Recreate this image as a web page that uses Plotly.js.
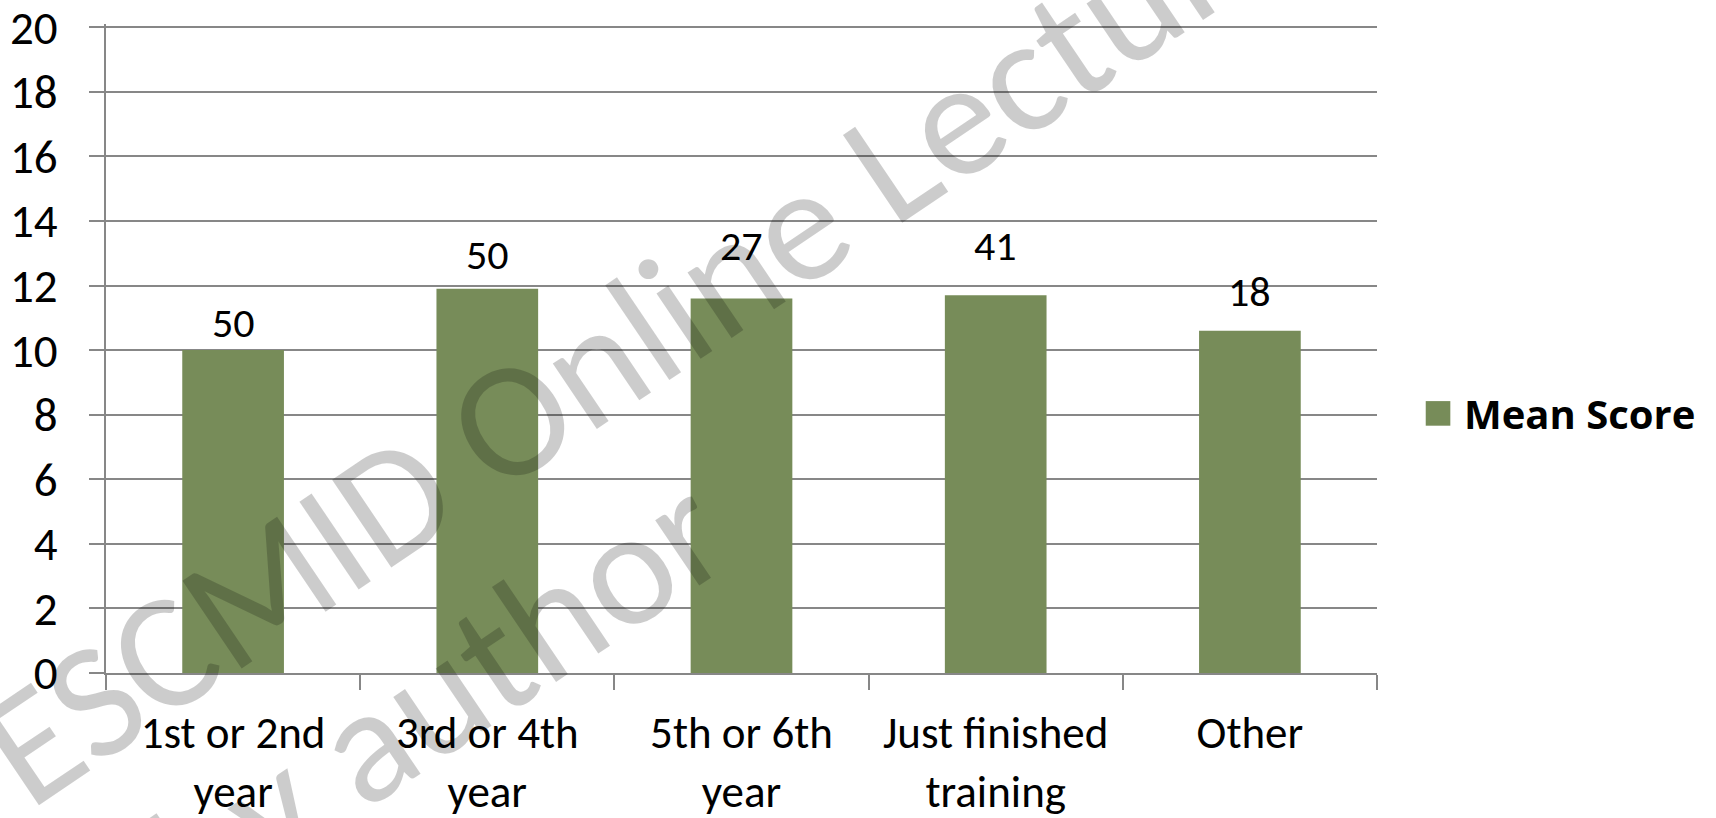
<!DOCTYPE html>
<html>
<head>
<meta charset="utf-8">
<script src="https://cdn.plot.ly/plotly-3.0.1.min.js"></script>
<style>
  html, body { margin: 0; padding: 0; background: #ffffff; }
  #chart { width: 1716px; height: 818px; }
</style>
</head>
<body>
<div id="chart"></div>
<script>
// ---- data ----
const categories = ["1st or 2nd<br>year", "3rd or 4th<br>year", "5th or 6th<br>year", "Just finished<br>training", "Other"];
const meanScore = [10.0, 11.9, 11.6, 11.7, 10.6];
const countLabels = ["50", "50", "27", "41", "18"];
const seriesName = "Mean Score";
const yTickValues = [0, 2, 4, 6, 8, 10, 12, 14, 16, 18, 20];

// ---- styling ----
const FONT = "Carlito, Calibri, 'Liberation Sans Narrow', 'Open Sans', sans-serif";
const BAR_COLOR = "#778c59";
const GRID = "#878787";
const labelLift = [0, 7, 25, 22, 12]; // manual label placement as in the original

const trace = {
  type: "bar",
  x: categories,
  y: meanScore,
  name: seriesName,
  marker: { color: BAR_COLOR, line: { width: 0 } },
  showlegend: true,
  hoverinfo: "x+y"
};

const annotations = categories.map((c, i) => ({
  x: c, y: meanScore[i], xref: "x", yref: "y",
  text: countLabels[i], showarrow: false,
  xanchor: "center", yanchor: "bottom", yshift: labelLift[i],
  font: { family: FONT, size: 42, color: "#000000" }
}));

// Watermark text
annotations.push({
  xref: "paper", yref: "paper", x: 0.580, y: 0.738,
  xanchor: "center", yanchor: "middle",
  text: "ESCMID Online Lecture Library", showarrow: false, textangle: -34,
  font: { family: FONT, size: 165, color: "rgba(0,0,0,0.2)" }
});
annotations.push({
  xref: "paper", yref: "paper", x: 0.203, y: -0.108,
  xanchor: "center", yanchor: "middle",
  text: "\u00a9 by author", showarrow: false, textangle: -34,
  font: { family: FONT, size: 165, color: "rgba(0,0,0,0.2)" }
});

const layout = {
  width: 1716, height: 818,
  margin: { l: 106, r: 339, t: 24, b: 145, pad: 0 },
  paper_bgcolor: "#ffffff", plot_bgcolor: "#ffffff",
  font: { family: FONT, size: 46, color: "#000000" },
  bargap: 0.6,
  xaxis: {
    type: "category",
    showline: true, linecolor: GRID, linewidth: 2,
    ticks: "outside", ticklen: 15, tickwidth: 2, tickcolor: GRID,
    tickson: "boundaries",
    showgrid: false,
    tickfont: { family: FONT, size: 45, color: "#000000" },
    ticklabelstandoff: 19,
    ticklabeloverflow: "allow",
    fixedrange: true
  },
  yaxis: {
    range: [0, 20.1],
    tickvals: yTickValues,
    showline: true, linecolor: GRID, linewidth: 2,
    ticks: "outside", ticklen: 15, tickwidth: 2, tickcolor: GRID,
    showgrid: true, gridcolor: GRID, gridwidth: 2,
    zeroline: false,
    tickfont: { family: FONT, size: 47, color: "#000000" },
    ticklabelstandoff: 22,
    ticklabeloverflow: "allow",
    fixedrange: true
  },
  showlegend: true,
  legend: {
    x: 1.037, xanchor: "left", y: 0.40, yanchor: "middle",
    font: { family: "'Open Sans', sans-serif", size: 40, color: "#000000", weight: "bold" },
    bgcolor: "rgba(0,0,0,0)", borderwidth: 0
  },
  annotations: annotations
};

Plotly.newPlot("chart", [trace], layout, { displayModeBar: false, staticPlot: true }).then(function (gd) {
  // enlarge the legend swatch to match the original's square key
  gd.querySelectorAll(".legend .legendpoints path").forEach(function (p) {
    p.setAttribute("transform", "translate(14,0) scale(2.05)");
  });
});
</script>
</body>
</html>
